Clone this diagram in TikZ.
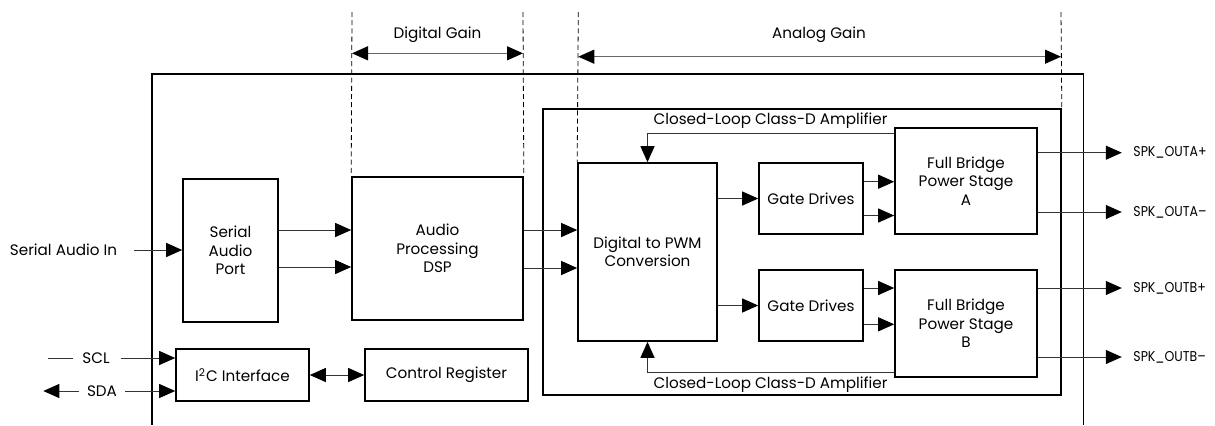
\documentclass[tikz,border=0pt]{standalone}
\usepackage{fontspec}
\usepackage{graphicx}
\setmainfont{Poppins}
\usetikzlibrary{arrows.meta,calc}
\newcommand{\outlbl}[1]{\scalebox{0.88}[1]{#1}}
\begin{document}
\begin{tikzpicture}[x=0.5pt,y=-0.5pt,
  box/.style={draw, line width=0.8pt, align=center, inner sep=0pt, font=\fontsize{7.6}{9.2}\selectfont},
  lbl/.style={inner sep=0pt, font=\fontsize{7.6}{9.2}\selectfont},
  olbl/.style={inner sep=0pt, anchor=west, font=\fontsize{7.1}{9.2}\selectfont},
  tipT/.tip={Triangle[length=8pt,width=7pt,color=black]},
  conn/.style={draw=black!80, line width=0.5pt, -tipT},
  biconn/.style={draw=black!80, line width=0.5pt, tipT-tipT},
  plain/.style={draw=black!80, line width=0.5pt},
  dim/.style={draw=black!60, line width=0.6pt, tipT-tipT},
  guide/.style={draw=black, line width=0.4pt, dash pattern=on 2.5pt off 1.6pt}]
\useasboundingbox (0,0) rectangle (1215,425);

% outer chip outline (open at bottom)
\draw[line width=0.8pt] (151.7,425) -- (151.7,74) -- (1083.3,74) -- (1083.3,425);

% blocks
\node[box, minimum width=47.5pt, minimum height=71.5pt] (sap) at (230.5,250.5) {Serial\\Audio\\Port};
\node[box, minimum width=85.5pt, minimum height=71.5pt] (dsp) at (437.5,248.5) {Audio\\Processing\\DSP};
\node[box, minimum width=259pt, minimum height=143pt] (cl) at (802,252) {};
\node[box, minimum width=69.5pt, minimum height=89pt] (pwm) at (647.5,252) {Digital to PWM\\Conversion};
\node[box, minimum width=52pt, minimum height=35.5pt] (gda) at (811,198.5) {Gate Drives};
\node[box, minimum width=52pt, minimum height=35.5pt] (gdb) at (811,305.5) {Gate Drives};
\node[box, minimum width=71pt, minimum height=53pt] (fba) at (966,181) {Full Bridge\\Power Stage\\A};
\node[box, minimum width=71pt, minimum height=53.5pt] (fbb) at (966,323.5) {Full Bridge\\Power Stage\\B};
\node[box, minimum width=66.5pt, minimum height=26pt] (i2c) at (242.5,375) {I\textsuperscript{2}C Interface};
\node[box, minimum width=81.5pt, minimum height=26pt] (creg) at (446.5,375) {Control Register};

% labels
\node[lbl] (clt) at (770.5,120.7) {Closed-Loop Class-D Amplifier};
\node[lbl] (clb) at (770.5,384.5) {Closed-Loop Class-D Amplifier};
\node[lbl] (dgl) at (437.5,34.5) {Digital Gain};
\node[lbl] (agl) at (819,34.5) {Analog Gain};
\node[lbl] (sain) at (63.5,250) {Serial Audio In};
\node[lbl] (scl) at (96,358) {SCL};
\node[lbl] (sda) at (102,391) {SDA};
\node[olbl] (oap) at (1133,152.7) {\outlbl{SPK\_OUTA+}};
\node[olbl] (oam) at (1133,212) {\outlbl{SPK\_OUTA--}};
\node[olbl] (obp) at (1133,288) {\outlbl{SPK\_OUTB+}};
\node[olbl] (obm) at (1133,357) {\outlbl{SPK\_OUTB--}};

% guide lines
\coordinate (g1) at (352,12);
\coordinate (g2) at (523,12);
\coordinate (g3) at (578.3,12);
\coordinate (g4) at (1061,12);
\draw[guide] (g1) -- (dsp.north west);
\draw[guide] (g2) -- (dsp.north east);
\draw[guide] (g3) -- (pwm.north west);
\draw[guide] (g4) -- (cl.north east);
\draw[dim] (g1 |- 0,53.3) -- (g2 |- 0,53.3);
\draw[dim] (g3 |- 0,56.7) -- (g4 |- 0,56.7);

% inputs
\coordinate (sainE) at (134,250);
\draw[conn] (sainE) -- (sap.west |- sainE);
\coordinate (sclA) at (48,358);
\coordinate (sclB) at (73,358);
\coordinate (sclC) at (120.7,358);
\draw[plain] (sclA) -- (sclB);
\draw[conn] (sclC) -- (i2c.west |- sclC);
\coordinate (sdaA) at (43.3,391);
\coordinate (sdaB) at (79,391);
\coordinate (sdaC) at (125,391);
\draw[conn] (sdaB) -- (sdaA);
\draw[conn] (sdaC) -- (i2c.west |- sdaC);
\draw[biconn] (i2c) -- (creg);

% signal path
\draw[conn] (sap.east |- 0,230) -- (dsp.west |- 0,230);
\draw[conn] (sap.east |- 0,267) -- (dsp.west |- 0,267);
\draw[conn] (dsp.east |- 0,230) -- (pwm.west |- 0,230);
\draw[conn] (dsp.east |- 0,268) -- (pwm.west |- 0,268);
\draw[conn] (pwm.east |- gda.west) -- (gda.west);
\draw[conn] (pwm.east |- gdb.west) -- (gdb.west);
\draw[conn] (gda.east |- 0,181.7) -- (fba.west |- 0,181.7);
\draw[conn] (gda.east |- 0,215.5) -- (fba.west |- 0,215.5);
\draw[conn] (gdb.east |- 0,288) -- (fbb.west |- 0,288);
\draw[conn] (gdb.east |- 0,324.3) -- (fbb.west |- 0,324.3);

% feedback
\draw[conn] (fba.west |- 0,133.3) -| (pwm.north);
\draw[conn] (fbb.west |- 0,372) -| (pwm.south);

% outputs
\draw[conn] (fba.east |- oap.west) -- ([xshift=-5.6pt]oap.west);
\draw[conn] (fba.east |- oam.west) -- ([xshift=-5.6pt]oam.west);
\draw[conn] (fbb.east |- obp.west) -- ([xshift=-5.6pt]obp.west);
\draw[conn] (fbb.east |- obm.west) -- ([xshift=-5.6pt]obm.west);
\end{tikzpicture}
\end{document}
